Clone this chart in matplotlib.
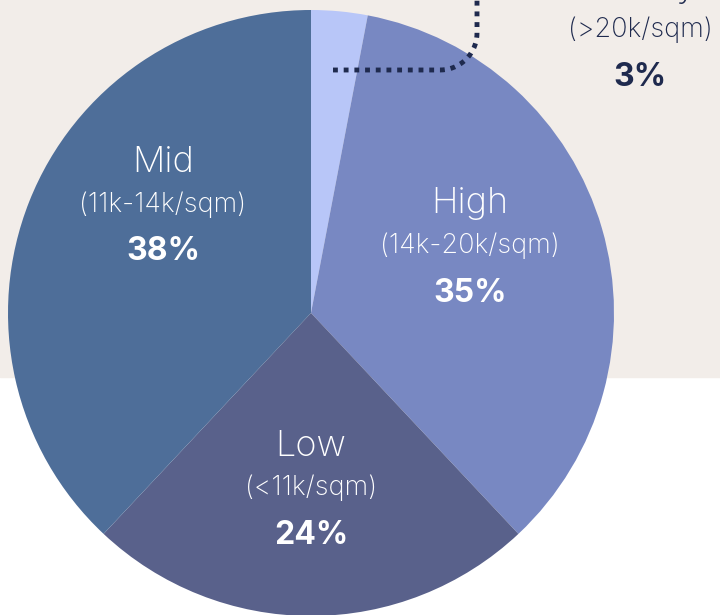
import numpy as np
import matplotlib.pyplot as plt
from matplotlib.patches import Rectangle

# segment data
segments = ['Luxury', 'High', 'Low', 'Mid']
ranges = ['(>20k/sqm)', '(14k-20k/sqm)', '(<11k/sqm)', '(11k-14k/sqm)']
shares = [3, 35, 24, 38]
colors = ['#b8c6f8', '#7888c2', '#59618b', '#4e6e99']

W, H = 720, 615
fig = plt.figure(figsize=(W / 100, H / 100), dpi=100)
ax = fig.add_axes([0, 0, 1, 1])

# beige band at the top
ax.add_patch(Rectangle((0, H - 377), W, 377, color='#f2ede9', zorder=0))

cx, cy, r = 311, H - 313, 303
ax.pie(shares, colors=colors, startangle=90, counterclock=False,
       center=(cx, cy), radius=r, frame=True,
       wedgeprops=dict(linewidth=0))
ax.set_xlim(0, W)
ax.set_ylim(0, H)
ax.set_aspect('equal')
ax.axis('off')

font = 'Inter'
dark = '#1f2a4e'

# label positions (pixel coords from top)
label_pos = {'Mid': (163, 163), 'High': (470, 204), 'Low': (311, 446), 'Luxury': (640, -12)}
for name, rng, pct in zip(segments, ranges, shares):
    x, y = label_pos[name]
    col = dark if name == 'Luxury' else 'white'
    ax.text(x, H - y, name, ha='center', va='center', fontsize=26,
            color=col, family=font, fontweight='light')
    ax.text(x, H - y - 42, rng, ha='center', va='center', fontsize=19.5,
            color=col, family=font, fontweight='light')
    ax.text(x, H - y - 89, f'{pct}%', ha='center', va='center', fontsize=23,
            color=col, family=font, fontweight='bold')

# dotted leader to the luxury label
t = np.linspace(-np.pi / 2, 0, 20)
arc_x = 440 + 37 * np.cos(t)
arc_y = 33 - 37 * np.sin(t)
lx = np.concatenate([[333], arc_x, [477]])
ly = np.concatenate([[70], arc_y, [-10]])
ax.plot(lx, H - ly, color=dark, linewidth=3.5, linestyle=(0, (1, 1.2)),
        solid_capstyle='butt', dash_capstyle='butt', clip_on=False)

fig.savefig('out.png', dpi=100)
